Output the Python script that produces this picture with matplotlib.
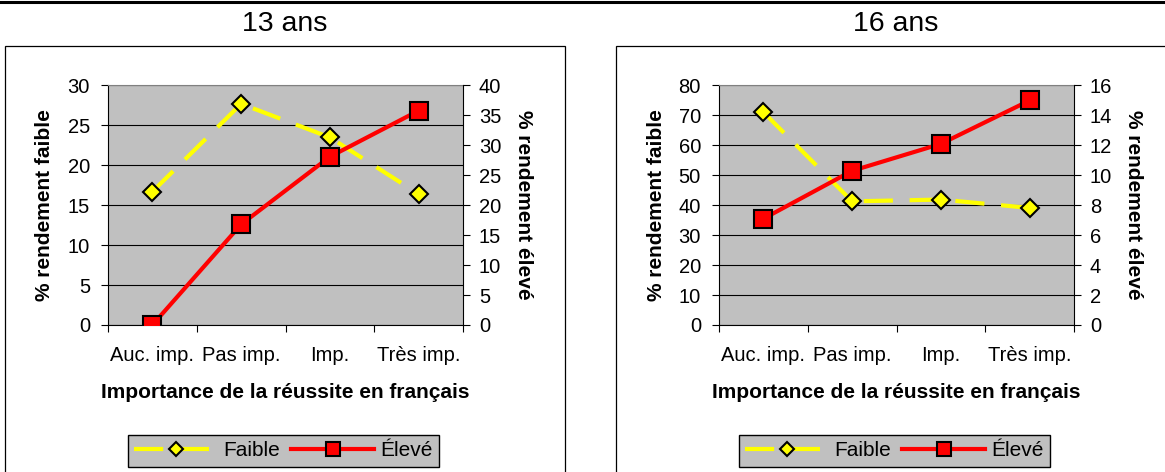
import matplotlib
matplotlib.use('Agg')
import matplotlib.pyplot as plt
from matplotlib.patches import Rectangle
from matplotlib.lines import Line2D

plt.rcParams['font.family'] = ['Liberation Sans', 'DejaVu Sans']

# data
cats = ['Auc. imp.', 'Pas imp.', 'Imp.', 'Très imp.']
faible_13 = [16.7, 27.7, 23.5, 16.4]
eleve_13 = [0.0, 16.8, 28.1, 35.8]
faible_16 = [71.1, 41.3, 41.9, 39.1]
eleve_16 = [7.1, 10.3, 12.1, 15.0]

W, H = 1165, 472
fig = plt.figure(figsize=(W / 100, H / 100), dpi=100)


def fx(x):
    return x / W


def fy(y):
    return 1 - y / H


# thick rule at the very top
fig.add_artist(Line2D([0, 1], [fy(1.5), fy(1.5)], color='black', lw=2.2,
                      transform=fig.transFigure))


def panel(x0, title, faible, eleve, lmax, lstep, rmax, rstep):
    # outer frame of the chart
    fig.add_artist(Rectangle((fx(x0), fy(490)), fx(560), fy(46) - fy(490),
                             transform=fig.transFigure, fill=False,
                             edgecolor='black', lw=0.9))
    fig.text(fx(x0 + 280), fy(31), title, ha='center', va='baseline',
             fontsize=20.5)

    left = x0 + 103
    ax = fig.add_axes([fx(left), fy(325), fx(355), fy(85.5) - fy(325)])
    ax.set_facecolor('#C0C0C0')
    x = list(range(len(cats)))
    ax.plot(x, faible, color='#FFFF00', lw=3, dashes=(7, 4),
            marker='D', markersize=9.5, markerfacecolor='#FFFF00',
            markeredgecolor='black', markeredgewidth=1.5, label='Faible',
            zorder=3)
    ax.set_xlim(-0.5, len(cats) - 0.5)
    ax.set_ylim(0, lmax)
    ax.set_yticks(range(0, lmax + 1, lstep))
    ax.yaxis.grid(True, color='black', lw=0.8)
    ax.set_axisbelow(True)
    ax.set_xticks([i - 0.5 for i in range(len(cats) + 1)])
    ax.set_xticklabels([])
    ax.set_xticks(x, minor=True)
    ax.set_xticklabels(cats, minor=True)
    ax.tick_params(axis='x', which='major', direction='out', length=5,
                   width=0.8)
    ax.tick_params(axis='x', which='minor', length=0, pad=15,
                   labelsize=14.5)
    ax.tick_params(axis='y', direction='out', length=5, width=0.8, pad=8,
                   labelsize=14.5)
    ax.spines['top'].set_color('#808080')
    ax.spines['right'].set_visible(False)
    for s in ('left', 'bottom'):
        ax.spines[s].set_linewidth(0.8)

    ax2 = ax.twinx()
    ax2.plot(x, eleve, color='#FF0000', lw=3, marker='s', markersize=13.5,
             markerfacecolor='#FF0000', markeredgecolor='black',
             markeredgewidth=1.5, label='Élevé', zorder=3)
    ax2.set_ylim(0, rmax)
    ax2.set_yticks(range(0, rmax + 1, rstep))
    ax2.tick_params(axis='y', direction='out', length=5, width=0.8, pad=6.5,
                    labelsize=14.5)
    for s in ('top', 'left', 'bottom'):
        ax2.spines[s].set_visible(False)
    ax2.spines['right'].set_linewidth(0.8)

    fig.text(fx(x0 + 40), fy(205), '% rendement faible', rotation=90,
             ha='center', va='center', fontsize=15, fontweight='bold')
    fig.text(fx(x0 + 518), fy(205), '% rendement élevé', rotation=-90,
             ha='center', va='center', fontsize=15, fontweight='bold')
    fig.text(fx(left + 177.5), fy(393), 'Importance de la réussite en français',
             ha='center', va='center', fontsize=15, fontweight='bold')

    h1, l1 = ax.get_legend_handles_labels()
    h2, l2 = ax2.get_legend_handles_labels()
    leg = fig.legend(h1 + h2, l1 + l2, loc='center',
                     bbox_to_anchor=(fx(x0 + 278.5), fy(451)), ncol=2,
                     frameon=True, fancybox=False, facecolor='#C0C0C0',
                     edgecolor='black', framealpha=1, fontsize=15,
                     handlelength=4, handletextpad=0.3, columnspacing=0.5,
                     borderpad=0.3, markerscale=0.7)
    leg.get_frame().set_linewidth(1)


panel(5, '13 ans', faible_13, eleve_13, 30, 5, 40, 5)
panel(616, '16 ans', faible_16, eleve_16, 80, 10, 16, 2)

fig.savefig('out.png', dpi=100)
